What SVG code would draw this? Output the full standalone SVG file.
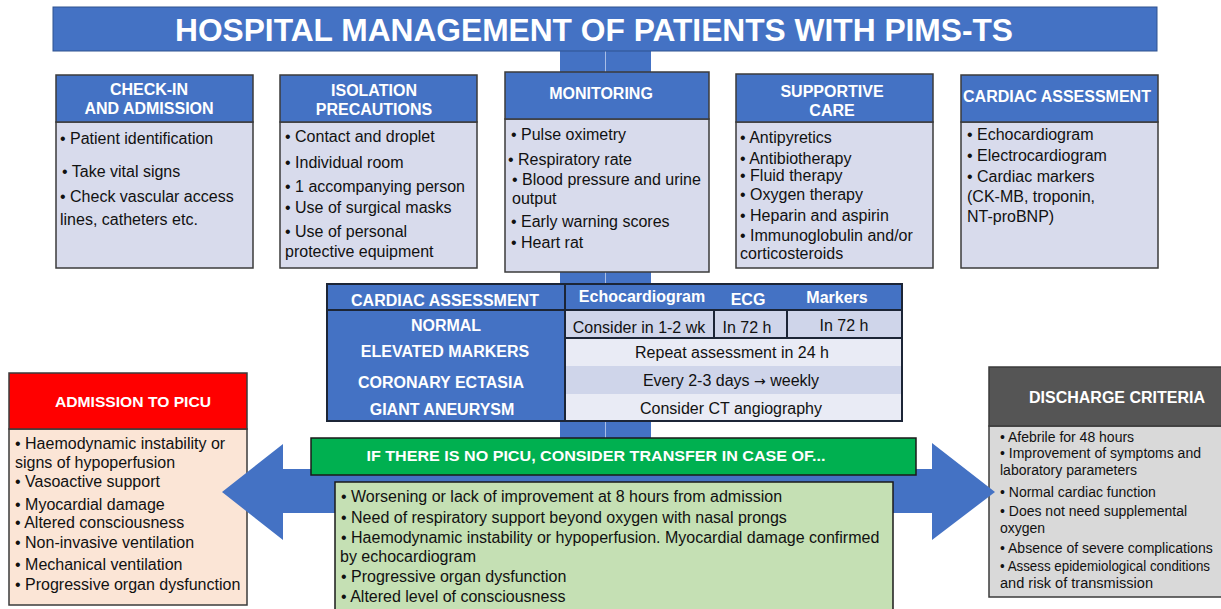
<svg xmlns="http://www.w3.org/2000/svg" width="1221" height="609" viewBox="0 0 1221 609">
<style>
.hd{fill:#4472C4;stroke:#3b3b3b;stroke-width:1.5}
.bd{fill:#D8DBEC;stroke:#3b3b3b;stroke-width:1.5}
.h{font-family:"Liberation Sans",Arial,sans-serif;font-weight:bold;font-size:16px;fill:#fff;text-anchor:middle}
.b{font-family:"Liberation Sans",Arial,sans-serif;font-size:16px;fill:#111}
.s{font-size:14px}
.c{text-anchor:middle}
.tb{stroke:#1c2536;stroke-width:2;fill:none}
</style>
<rect width="1221" height="609" fill="#fff"/>
<g id="connectors">
  <rect x="560" y="51" width="91" height="431" fill="#4472C4"/>
  <line x1="605.5" y1="51" x2="605.5" y2="482" stroke="#A9BDE6" stroke-width="1"/>
</g>
<g id="title">
  <rect x="53" y="7" width="1104" height="44" fill="#4472C4" stroke="#2F528F" stroke-width="1"/>
  <text x="175" y="41" textLength="838" lengthAdjust="spacingAndGlyphs" style="font-family:'Liberation Sans',Arial,sans-serif;font-weight:bold;font-size:32px;fill:#fff">HOSPITAL MANAGEMENT OF PATIENTS WITH PIMS-TS</text>
</g>
<g id="checkin">
  <rect class="bd" x="56" y="122" width="197" height="146"/>
  <rect class="hd" x="56" y="75" width="197" height="47"/>
  <text class="h" x="149" y="95">CHECK-IN</text>
  <text class="h" x="149" y="114">AND ADMISSION</text>
  <text class="b" x="60" y="144">• Patient identification</text>
  <text class="b" x="62" y="177">• Take vital signs</text>
  <text class="b" x="60" y="202">• Check vascular access</text>
  <text class="b" x="60" y="225">lines, catheters etc.</text>
</g>
<g id="isolation">
  <rect class="bd" x="280" y="122" width="197" height="146"/>
  <rect class="hd" x="280" y="75" width="197" height="47"/>
  <text class="h" x="374" y="96">ISOLATION</text>
  <text class="h" x="374" y="115">PRECAUTIONS</text>
  <text class="b" x="285" y="142">• Contact and droplet</text>
  <text class="b" x="285" y="168">• Individual room</text>
  <text class="b" x="285" y="192">• 1 accompanying person</text>
  <text class="b" x="285" y="213">• Use of surgical masks</text>
  <text class="b" x="285" y="237">• Use of personal</text>
  <text class="b" x="285" y="257">protective equipment</text>
</g>
<g id="monitoring">
  <rect class="bd" x="505" y="119" width="204" height="153"/>
  <rect class="hd" x="505" y="72" width="204" height="47"/>
  <text class="h" x="601" y="99">MONITORING</text>
  <text class="b" x="511" y="140">• Pulse oximetry</text>
  <text class="b" x="508" y="165">• Respiratory rate</text>
  <text class="b" x="512" y="185">• Blood pressure and urine</text>
  <text class="b" x="512" y="204">output</text>
  <text class="b" x="511" y="227">• Early warning scores</text>
  <text class="b" x="511" y="248">• Heart rat</text>
</g>
<g id="supportive">
  <rect class="bd" x="736" y="122" width="197" height="146"/>
  <rect class="hd" x="736" y="74" width="197" height="48"/>
  <text class="h" x="832" y="97">SUPPORTIVE</text>
  <text class="h" x="832" y="116">CARE</text>
  <text class="b" x="740" y="143">• Antipyretics</text>
  <text class="b" x="740" y="164">• Antibiotherapy</text>
  <text class="b" x="740" y="181">• Fluid therapy</text>
  <text class="b" x="740" y="200">• Oxygen therapy</text>
  <text class="b" x="740" y="221">• Heparin and aspirin</text>
  <text class="b" x="740" y="241">• Immunoglobulin and/or</text>
  <text class="b" x="740" y="259">corticosteroids</text>
</g>
<g id="cardiac">
  <rect class="bd" x="961" y="122" width="197" height="146"/>
  <rect class="hd" x="961" y="75" width="197" height="47"/>
  <text class="h" x="1057" y="102">CARDIAC ASSESSMENT</text>
  <text class="b" x="967" y="140">• Echocardiogram</text>
  <text class="b" x="967" y="161">• Electrocardiogram</text>
  <text class="b" x="967" y="182">• Cardiac markers</text>
  <text class="b" x="967" y="202">(CK-MB, troponin,</text>
  <text class="b" x="967" y="222">NT-proBNP)</text>
</g>
<g id="table">
  <rect x="327" y="284" width="575" height="137" fill="#4472C4"/>
  <rect x="565" y="310" width="337" height="28" fill="#CFD5EA"/>
  <rect x="565" y="338" width="337" height="28" fill="#E9EBF5"/>
  <rect x="565" y="366" width="337" height="28" fill="#CFD5EA"/>
  <rect x="565" y="394" width="337" height="27" fill="#E9EBF5"/>
  <rect class="tb" x="327" y="284" width="575" height="137"/>
  <line class="tb" x1="565" y1="284" x2="565" y2="421"/>
  <line class="tb" x1="327" y1="310" x2="902" y2="310"/>
  <line class="tb" x1="565" y1="338" x2="902" y2="338"/>
  <line class="tb" x1="714" y1="310" x2="714" y2="338"/>
  <line class="tb" x1="787" y1="310" x2="787" y2="338"/>
  <text class="h" x="445" y="306">CARDIAC ASSESSMENT</text>
  <text class="h" x="642" y="302">Echocardiogram</text>
  <text class="h" x="748" y="305">ECG</text>
  <text class="h" x="837" y="303">Markers</text>
  <text class="h" x="446" y="331">NORMAL</text>
  <text class="h" x="445" y="357">ELEVATED MARKERS</text>
  <text class="h" x="441" y="388">CORONARY ECTASIA</text>
  <text class="h" x="442" y="415">GIANT ANEURYSM</text>
  <text class="b c" x="639" y="333">Consider in 1-2 wk</text>
  <text class="b c" x="747" y="333">In 72 h</text>
  <text class="b c" x="844" y="331">In 72 h</text>
  <text class="b c" x="732" y="358">Repeat assessment in 24 h</text>
  <text class="b c" x="731" y="386">Every 2-3 days <tspan style="font-family:'DejaVu Sans',sans-serif;font-size:14px">→</tspan> weekly</text>
  <text class="b c" x="731" y="414">Consider CT angiography</text>
</g>
<g id="picu">
  <rect x="9" y="429" width="238" height="176" fill="#FBE5D6" stroke="#3b3b3b" stroke-width="1.5"/>
  <rect x="9" y="373" width="238" height="56" fill="#FF0000" stroke="#3b3b3b" stroke-width="1.5"/>
  <text class="h" x="133" y="407" textLength="156" lengthAdjust="spacingAndGlyphs" style="font-size:15px">ADMISSION TO PICU</text>
  <text class="b" x="15" y="449">• Haemodynamic instability or</text>
  <text class="b" x="15" y="468">signs of hypoperfusion</text>
  <text class="b" x="15" y="487">• Vasoactive support</text>
  <text class="b" x="15" y="510">• Myocardial damage</text>
  <text class="b" x="15" y="528">• Altered consciousness</text>
  <text class="b" x="15" y="548">• Non-invasive ventilation</text>
  <text class="b" x="15" y="570">• Mechanical ventilation</text>
  <text class="b" x="15" y="590">• Progressive organ dysfunction</text>
</g>
<g id="discharge">
  <rect x="989" y="426" width="233" height="171" fill="#D9D9D9" stroke="#3b3b3b" stroke-width="1.5"/>
  <rect x="989" y="367" width="233" height="59" fill="#555555" stroke="#3b3b3b" stroke-width="1.5"/>
  <text class="h" x="1117" y="403">DISCHARGE CRITERIA</text>
  <text class="b s" x="1000" y="442">• Afebrile for 48 hours</text>
  <text class="b s" x="1000" y="458">• Improvement of symptoms and</text>
  <text class="b s" x="1000" y="475">laboratory parameters</text>
  <text class="b s" x="1000" y="497">• Normal cardiac function</text>
  <text class="b s" x="1000" y="516">• Does not need supplemental</text>
  <text class="b s" x="1000" y="533">oxygen</text>
  <text class="b s" x="1000" y="553">• Absence of severe complications</text>
  <text class="b s" x="1000" y="571" textLength="210" lengthAdjust="spacingAndGlyphs">• Assess epidemiological conditions</text>
  <text class="b s" x="1000" y="588" textLength="153" lengthAdjust="spacingAndGlyphs">and risk of transmission</text>
</g>
<g id="arrow">
  <polygon points="222,492 283,444 283,469 932,469 932,443 995,492 932,540 932,513 283,513 283,540" fill="#4472C4"/>
</g>
<g id="transfer">
  <rect x="311" y="438" width="605" height="37" fill="#00B050" stroke="#1a1a1a" stroke-width="1.5"/>
  <text class="h" x="596" y="461" textLength="459" lengthAdjust="spacingAndGlyphs" style="font-size:15px">IF THERE IS NO PICU, CONSIDER TRANSFER IN CASE OF...</text>
  <rect x="335" y="482" width="558" height="132" fill="#C5E0B4" stroke="#1a1a1a" stroke-width="1.5"/>
  <text class="b" x="341" y="502">• Worsening or lack of improvement at 8 hours from admission</text>
  <text class="b" x="341" y="523">• Need of respiratory support beyond oxygen with nasal prongs</text>
  <text class="b" x="341" y="543">• Haemodynamic instability or hypoperfusion. Myocardial damage confirmed</text>
  <text class="b" x="340" y="562">by echocardiogram</text>
  <text class="b" x="341" y="582">• Progressive organ dysfunction</text>
  <text class="b" x="341" y="602">• Altered level of consciousness</text>
</g>
</svg>
